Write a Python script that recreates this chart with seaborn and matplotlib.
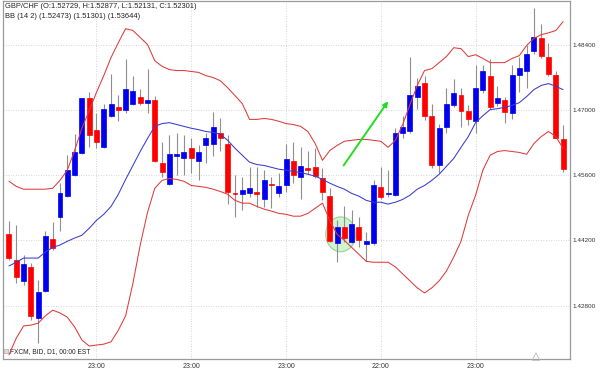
import numpy as np
import pandas as pd
import matplotlib
matplotlib.use("Agg")
import matplotlib.pyplot as plt
from matplotlib.patches import Ellipse
import seaborn as sns

# GBP/CHF daily candles
opens = [1.4433, 1.4378, 1.4333, 1.4363, 1.4253, 1.4311, 1.4423, 1.4470, 1.4515, 1.4560,
         1.4607, 1.4725, 1.4658, 1.4620, 1.4688, 1.4706, 1.4701, 1.4714, 1.4729, 1.4716,
         1.4721, 1.4586, 1.4541, 1.4601, 1.4598, 1.4618, 1.4590, 1.4626, 1.4628, 1.4650,
         1.4628, 1.4521, 1.4519, 1.4521, 1.4525, 1.4510, 1.4541, 1.4521, 1.4538, 1.4590,
         1.4556, 1.4575, 1.4577, 1.4553, 1.4515, 1.4414, 1.4448, 1.4416, 1.4448, 1.4412,
         1.4414, 1.4534, 1.4519, 1.4517, 1.4650, 1.4656, 1.4729, 1.4759, 1.4688, 1.4583,
         1.4663, 1.4712, 1.4733, 1.4699, 1.4676, 1.4744, 1.4774, 1.4716, 1.4721, 1.4693,
         1.4776, 1.4783, 1.4828, 1.4854, 1.4815, 1.4776, 1.4637]
highs = [1.4461, 1.4453, 1.4388, 1.4371, 1.4335, 1.4440, 1.4459, 1.4543, 1.4603, 1.4648,
         1.4727, 1.4738, 1.4693, 1.4714, 1.4778, 1.4733, 1.4809, 1.4774, 1.4746, 1.4789,
         1.4731, 1.4631, 1.4646, 1.4650, 1.4646, 1.4641, 1.4624, 1.4650, 1.4695, 1.4682,
         1.4646, 1.4560, 1.4556, 1.4577, 1.4577, 1.4571, 1.4556, 1.4564, 1.4628, 1.4631,
         1.4620, 1.4613, 1.4618, 1.4575, 1.4532, 1.4463, 1.4493, 1.4485, 1.4470, 1.4438,
         1.4549, 1.4577, 1.4571, 1.4661, 1.4688, 1.4815, 1.4770, 1.4774, 1.4714, 1.4671,
         1.4748, 1.4766, 1.4748, 1.4710, 1.4796, 1.4796, 1.4809, 1.4751, 1.4729, 1.4796,
         1.4815, 1.4839, 1.4920, 1.4884, 1.4845, 1.4785, 1.4667]
lows = [1.4378, 1.4328, 1.4324, 1.4249, 1.4200, 1.4309, 1.4399, 1.4440, 1.4513, 1.4558,
        1.4605, 1.4620, 1.4618, 1.4618, 1.4686, 1.4676, 1.4693, 1.4710, 1.4710, 1.4693,
        1.4588, 1.4556, 1.4538, 1.4560, 1.4560, 1.4564, 1.4549, 1.4586, 1.4601, 1.4613,
        1.4498, 1.4470, 1.4485, 1.4513, 1.4491, 1.4491, 1.4489, 1.4513, 1.4523, 1.4543,
        1.4510, 1.4562, 1.4553, 1.4506, 1.4416, 1.4373, 1.4416, 1.4414, 1.4405, 1.4375,
        1.4410, 1.4510, 1.4513, 1.4515, 1.4639, 1.4650, 1.4703, 1.4678, 1.4575, 1.4564,
        1.4650, 1.4706, 1.4663, 1.4667, 1.4650, 1.4736, 1.4703, 1.4708, 1.4673, 1.4680,
        1.4738, 1.4748, 1.4821, 1.4811, 1.4774, 1.4639, 1.4568]
closes = [1.4382, 1.4341, 1.4369, 1.4258, 1.4309, 1.4429, 1.4403, 1.4521, 1.4571, 1.4609,
          1.4725, 1.4646, 1.4631, 1.4703, 1.4714, 1.4701, 1.4746, 1.4740, 1.4716, 1.4721,
          1.4590, 1.4568, 1.4605, 1.4605, 1.4611, 1.4596, 1.4611, 1.4639, 1.4663, 1.4641,
          1.4525, 1.4519, 1.4528, 1.4532, 1.4519, 1.4549, 1.4538, 1.4536, 1.4594, 1.4560,
          1.4579, 1.4571, 1.4558, 1.4523, 1.4418, 1.4448, 1.4425, 1.4455, 1.4420, 1.4418,
          1.4538, 1.4513, 1.4521, 1.4650, 1.4663, 1.4733, 1.4751, 1.4688, 1.4581, 1.4661,
          1.4714, 1.4736, 1.4699, 1.4680, 1.4748, 1.4783, 1.4706, 1.4727, 1.4695, 1.4776,
          1.4791, 1.4821, 1.4856, 1.4817, 1.4778, 1.4641, 1.4573]

# Bollinger bands (14, 2)
bb_upper = [1.4547, 1.4536, 1.4530, 1.4530, 1.4530, 1.4530, 1.4532, 1.4549, 1.4571, 1.4613,
            1.4661, 1.4699, 1.4738, 1.4774, 1.4813, 1.4845, 1.4875, 1.4871, 1.4856, 1.4841,
            1.4806, 1.4794, 1.4787, 1.4785, 1.4785, 1.4783, 1.4781, 1.4774, 1.4770, 1.4763,
            1.4748, 1.4731, 1.4714, 1.4680, 1.4680, 1.4682, 1.4680, 1.4676, 1.4671, 1.4669,
            1.4665, 1.4654, 1.4628, 1.4592, 1.4613, 1.4624, 1.4633, 1.4635, 1.4637, 1.4637,
            1.4635, 1.4633, 1.4620, 1.4635, 1.4669, 1.4712, 1.4753, 1.4785, 1.4789, 1.4802,
            1.4815, 1.4834, 1.4832, 1.4815, 1.4819, 1.4811, 1.4802, 1.4802, 1.4802, 1.4811,
            1.4817, 1.4839, 1.4854, 1.4862, 1.4866, 1.4871, 1.4890]
bb_middle = [1.4365, 1.4373, 1.4382, 1.4382, 1.4382, 1.4395, 1.4405, 1.4410, 1.4418, 1.4425,
             1.4431, 1.4446, 1.4463, 1.4476, 1.4493, 1.4519, 1.4551, 1.4581, 1.4611, 1.4639,
             1.4665, 1.4671, 1.4673, 1.4669, 1.4665, 1.4661, 1.4658, 1.4654, 1.4652, 1.4648,
             1.4635, 1.4618, 1.4603, 1.4588, 1.4583, 1.4581, 1.4577, 1.4573, 1.4571, 1.4568,
             1.4566, 1.4562, 1.4558, 1.4551, 1.4543, 1.4536, 1.4530, 1.4521, 1.4515, 1.4506,
             1.4502, 1.4502, 1.4498, 1.4502, 1.4508, 1.4517, 1.4530, 1.4538, 1.4549, 1.4562,
             1.4579, 1.4596, 1.4620, 1.4643, 1.4673, 1.4688, 1.4701, 1.4703, 1.4706, 1.4710,
             1.4716, 1.4729, 1.4744, 1.4753, 1.4757, 1.4751, 1.4744]
bb_lower = [1.4174, 1.4210, 1.4236, 1.4238, 1.4242, 1.4258, 1.4270, 1.4264, 1.4255, 1.4234,
            1.4206, 1.4193, 1.4195, 1.4197, 1.4202, 1.4227, 1.4258, 1.4328, 1.4410, 1.4480,
            1.4532, 1.4549, 1.4553, 1.4551, 1.4547, 1.4538, 1.4536, 1.4534, 1.4530, 1.4525,
            1.4519, 1.4506, 1.4500, 1.4500, 1.4493, 1.4487, 1.4483, 1.4478, 1.4476, 1.4472,
            1.4472, 1.4478, 1.4489, 1.4500, 1.4463, 1.4433, 1.4420, 1.4405, 1.4390, 1.4375,
            1.4373, 1.4373, 1.4373, 1.4363, 1.4348, 1.4333, 1.4318, 1.4307, 1.4318, 1.4333,
            1.4354, 1.4384, 1.4418, 1.4474, 1.4517, 1.4571, 1.4603, 1.4611, 1.4613, 1.4611,
            1.4609, 1.4605, 1.4628, 1.4643, 1.4654, 1.4643, 1.4618]

y_ticks = [1.428, 1.442, 1.456, 1.470, 1.484]
x_tick_pos = [12, 25, 38, 51, 64]
x_tick_labels = ["23:00", "23:00", "23:00", "22:00", "23:00"]

header1 = "GBP/CHF (O:1.52729, H:1.52877, L:1.52131, C:1.52301)"
header2 = "BB (14 2) (1.52473) (1.51301) (1.53644)"
footer = "FXCM, BID, D1, 00:00 EST"

# annotations: arrow and highlighted circle (candle index, price)
arrow_start = (45.9, 1.4581)
arrow_end = (52.0, 1.4719)
circle_center = (45.5, 1.4433)

sns.set_style("white")
plt.rcParams['font.family'] = ['Liberation Sans', 'DejaVu Sans']

df = pd.DataFrame({"open": opens, "high": highs, "low": lows, "close": closes})
df["idx"] = np.arange(len(df))
up = df["close"] >= df["open"]
body_col = np.where(up, "#0000ee", "#ff0000")

fig = plt.figure(figsize=(6, 3.69), dpi=100)
ax = fig.add_axes([0.005, 0.027, 0.945, 0.971])

# grid
for y in y_ticks:
    ax.axhline(y, color="#c8c8c8", lw=0.6, ls=(0, (1, 2)), zorder=0)
for x in x_tick_pos:
    ax.axvline(x, color="#c8c8c8", lw=0.6, ls=(0, (1, 2)), zorder=0)

# highlighted area behind the candles
ax.add_patch(Ellipse(circle_center, width=4.1, height=0.0075, facecolor="#bdeebd",
                     edgecolor="#6fc86f", alpha=0.7, lw=0.8, zorder=1))

# candles
ax.vlines(df["idx"], df["low"], df["high"], color="#8f8f8f", lw=0.8, zorder=2)
ax.bar(df["idx"], df["close"] - df["open"], bottom=df["open"], width=0.68,
       color=body_col, edgecolor=body_col, linewidth=0.5, zorder=3)

# bollinger bands
bands = pd.DataFrame({"idx": df["idx"], "upper": bb_upper, "middle": bb_middle,
                      "lower": bb_lower}).melt(id_vars="idx", var_name="band", value_name="price")
sns.lineplot(data=bands, x="idx", y="price", hue="band", sort=False, legend=False,
             palette={"upper": "#e03a3a", "middle": "#3a3ad0", "lower": "#e03a3a"},
             lw=0.75, ax=ax, zorder=4)

ax.annotate("", xy=arrow_end, xytext=arrow_start,
            arrowprops=dict(arrowstyle="-|>", color="#22dd22", lw=1.4,
                            mutation_scale=7, shrinkA=0, shrinkB=0), zorder=6)

ax.set_xlim(-0.82, 76.95)
ax.set_ylim(1.4165, 1.4935)
ax.yaxis.tick_right()
ax.set_yticks(y_ticks)
ax.set_yticklabels([f"{v:.5f}" for v in y_ticks])
ax.set_xticks(x_tick_pos)
ax.set_xticklabels(x_tick_labels)
ax.tick_params(axis="y", length=0, pad=2, labelsize=4.6, labelcolor="#333333")
ax.tick_params(axis="x", length=0, pad=2.5, labelsize=5, labelcolor="#333333")
ax.set_xlabel("")
ax.set_ylabel("")
for s in ax.spines.values():
    s.set_color("#9a9a9a")
    s.set_linewidth(0.9)

ax.text(0.003, 0.995, header1, transform=ax.transAxes, fontsize=5.4,
        va="top", ha="left", color="#222222")
ax.text(0.003, 0.965, header2, transform=ax.transAxes, fontsize=5.4,
        va="top", ha="left", color="#222222")
ax.text(0.012, 0.012, footer, transform=ax.transAxes, fontsize=4.8,
        va="bottom", ha="left", color="#222222")
ax.scatter([0.006], [0.022], transform=ax.transAxes, marker="s", s=5,
           facecolor="#dddddd", edgecolor="#999999", lw=0.4, zorder=7, clip_on=False)
ax.scatter([0.94], [0.007], transform=ax.transAxes, marker="^", s=30,
           facecolor="none", edgecolor="#bbbbbb", lw=0.6, zorder=7, clip_on=False)

fig.savefig("out.png", dpi=100)
